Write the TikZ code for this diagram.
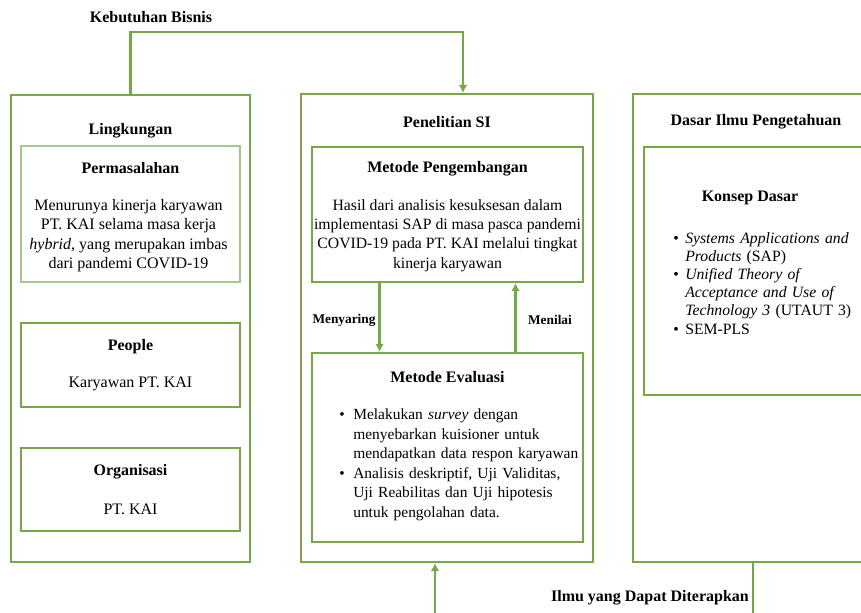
\documentclass[tikz,border=0pt]{standalone}
\usepackage{fontspec}
\setmainfont{Liberation Serif}
\usepackage{enumitem}
\usepackage{xcolor}
\usetikzlibrary{arrows.meta,positioning}
\definecolor{hijau}{HTML}{77A846}
\definecolor{hijaumuda}{HTML}{A3C98A}

\begin{document}
\begin{tikzpicture}[x=0.75pt,y=-0.75pt,
  every node/.style={font=\fontsize{12}{14.6}\selectfont},
  kotak/.style={draw=hijau,line width=1.6pt,inner sep=0pt},
  kotaktipis/.style={draw=hijaumuda,line width=0.9pt,inner sep=0pt},
  judul/.style={font=\fontsize{12}{14.6}\selectfont\bfseries},
  labelpanah/.style={font=\fontsize{10}{12}\selectfont\bfseries},
  isi/.style={align=center,inner sep=0pt},
  daftar/.style={anchor=north west,align=left,inner sep=0pt},
  fl/.style={-{Latex[length=6pt,width=6.5pt]},draw=hijau,line width=1.6pt}]
  \useasboundingbox (0,0) rectangle (861,613);
  \clip (0,0) rectangle (861,613);

  % kolom kiri
  \node[kotak,minimum width=179.25pt,minimum height=350.25pt] (ling) at (130.5,328.5) {};
  \node[judul] (tling) at (130.5,131) {Lingkungan};
  \node[kotaktipis,minimum width=164.25pt,minimum height=102pt] (masalah) at (130.5,214) {};
  \node[judul] (tmasalah) at (130.5,168) {Permasalahan};
  \node[isi] (imasalah) at (128.5,235.5) {Menurunya kinerja karyawan\\ PT. KAI selama masa kerja\\
    \textit{hybrid}, yang merupakan imbas\\ dari pandemi COVID-19};
  \node[kotak,minimum width=164.25pt,minimum height=63pt] (people) at (130.5,365) {};
  \node[judul] (tpeople) at (130.5,347) {People};
  \node[isi] (ipeople) at (130.5,384) {Karyawan PT. KAI};
  \node[kotak,minimum width=164.25pt,minimum height=62.25pt] (org) at (130.5,489.5) {};
  \node[judul] (torg) at (130.5,472) {Organisasi};
  \node[isi] (iorg) at (130.5,509) {PT. KAI};

  % kolom tengah
  \node[kotak,minimum width=219pt,minimum height=351pt] (pen) at (447,328) {};
  \node[judul] (tpen) at (447,122) {Penelitian SI};
  \node[kotak,minimum width=203.25pt,minimum height=101.25pt] (mp) at (447.5,214.5) {};
  \node[judul] (tmp) at (447.5,169) {Metode Pengembangan};
  \node[isi,font=\fontsize{11.8}{14.6}\selectfont] (imp) at (447.5,235.5) {Hasil dari analisis kesuksesan dalam\\ implementasi SAP di masa pasca pandemi\\
    COVID-19 pada PT. KAI melalui tingkat\\ kinerja karyawan};
  \node[kotak,minimum width=203.25pt,minimum height=141.75pt] (me) at (447.5,447.5) {};
  \node[judul] (tme) at (447.5,377) {Metode Evaluasi};
  \node[daftar,text width=190pt,font=\fontsize{11.6}{14.6}\selectfont] (ime) at (336,400) {%
    \begin{itemize}[leftmargin=12.75pt,labelsep=6.3pt,itemsep=0pt,topsep=0pt,parsep=0pt,partopsep=0pt]
    \item Melakukan \textit{survey} dengan\newline menyebarkan kuisioner untuk\newline mendapatkan data respon karyawan
    \item Analisis deskriptif, Uji Validitas,\newline Uji Reabilitas dan Uji hipotesis\newline untuk pengolahan data.
    \end{itemize}};
  \node[labelpanah] (lsaring) at (344,320) {Menyaring};
  \node[labelpanah] (lnilai) at (550,320) {Menilai};

  % kolom kanan
  \node[kotak,minimum width=180pt,minimum height=351pt] (dasar) at (753,328) {};
  \node[judul] (tdasar) at (756,122) {Dasar Ilmu Pengetahuan};
  \node[kotak,minimum width=165pt,minimum height=186pt] (konsep) at (754,271) {};
  \node[judul] (tkonsep) at (750,198) {Konsep Dasar};
  \node[daftar,text width=142pt,font=\fontsize{11.8}{13.6}\selectfont] (ikonsep) at (668,225) {%
    \begin{itemize}[leftmargin=12.75pt,labelsep=4.8pt,itemsep=0pt,topsep=0pt,parsep=0pt,partopsep=0pt]
    \item \textit{Systems Applications and}\newline \textit{Products} (SAP)
    \item \textit{Unified Theory of}\newline \textit{Acceptance and Use of}\newline \textit{Technology 3} (UTAUT 3)
    \item SEM-PLS
    \end{itemize}};

  % label panah luar
  \node[judul] (lbisnis) at (151,17) {Kebutuhan Bisnis};
  \node[judul] (lilmu) at (650,598) {Ilmu yang Dapat Diterapkan};

  \draw[fl] (ling.north) -- ++(0,-62) -| ([xshift=12pt]pen.north);
  \draw[fl] ([xshift=-51pt]mp.south) -- ([xshift=-51pt]me.north);
  \draw[fl] ([xshift=51pt]me.north) -- ([xshift=51pt]mp.south);
  \draw[fl] (dasar.south) -- ++(0,56) -| ([xshift=-9pt]pen.south);
\end{tikzpicture}
\end{document}
